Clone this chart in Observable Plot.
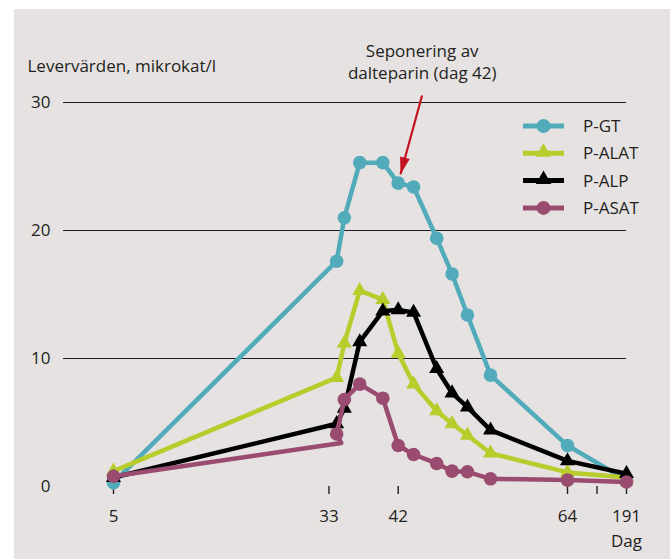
<!DOCTYPE html>
<html>
<head>
<meta charset="utf-8">
<script src="https://cdn.jsdelivr.net/npm/d3@7"></script>
<script src="https://cdn.jsdelivr.net/npm/@observablehq/plot@0.6"></script>
<style>
  html, body { margin: 0; padding: 0; background: #ffffff; }
  #wrap { position: relative; width: 670px; height: 559px; overflow: hidden; }
  #bg { position: absolute; left: 14px; top: 9px; right: 0; bottom: 0; background: #e6e2e2; }
  #chart { position: absolute; left: 0; top: 0; }
  #legend { position: absolute; left: 0; top: 0; pointer-events: none; }
</style>
</head>
<body>
<div id="wrap"><div id="bg"></div><div id="chart"></div><svg id="legend" width="670" height="559"></svg></div>
<script>
// ---- data ----
const days   = [5, 34, 35, 37, 40, 42, 44, 47, 49, 51, 54, 64, 191];
const pGT    = [0.3, 17.6, 21.0, 25.3, 25.3, 23.7, 23.4, 19.4, 16.6, 13.4, 8.7, 3.2, 0.5];
const pALAT  = [1.2, 8.5, 11.2, 15.3, 14.6, 10.4, 8.0, 5.9, 4.9, 4.0, 2.6, 1.1, 0.7];
const pALP   = [0.7, 4.9, 6.1, 11.3, 13.7, 13.8, 13.6, 9.2, 7.3, 6.2, 4.4, 2.0, 1.0];
const pASAT  = [0.8, 4.1, 6.8, 8.0, 6.9, 3.2, 2.5, 1.8, 1.2, 1.15, 0.6, 0.5, 0.35];
// the P-ASAT line from day 5 ends just below its day-34 marker
const asatJoin = {day: 34.6, value: 3.4};

const seriesNames  = ["P-GT", "P-ALAT", "P-ALP", "P-ASAT"];
const seriesColors = ["#52abba", "#b8cc2c", "#000000", "#9a4b70"];
const seriesSymbols = ["circle", "triangle", "triangle", "circle"];

const xTicks = [5, 33, 42, 64, 191];
const xBreak = (64 + 191) / 2;
const yTicks = [0, 10, 20, 30];
const gridValues = [10, 20, 30];

const yTitle = "Levervärden, mikrokat/l";
const annotText = "Seponering av\ndalteparin (dag 42)";
const annotDay = 42;
const arrowFrom = {day: 45.1, value: 30.55};
const arrowTo = {day: 42.3, value: 24.4};

// ---- build tables ----
const valuesBy = [pGT, pALAT, pALP, pASAT];
const tables = valuesBy.map(vals => days.map((d, i) => ({day: d, value: vals[i]})));
const asatLine = [tables[3][0], asatJoin, ...tables[3].slice(1)];
const lineTables = [tables[0], tables[1], tables[2], asatLine];

const font = "'Open Sans', 'Noto Sans', sans-serif";
const ink = "#231f20";
const fs = 17;

// narrow filled arrowhead, tip at origin, pointing down
const arrowHead = {
  draw(ctx, size) {
    ctx.moveTo(0, 0);
    ctx.lineTo(-5, -17);
    ctx.lineTo(5, -17);
    ctx.closePath();
  }
};

const seriesMarks = [];
for (let s = 0; s < 4; s++) {
  seriesMarks.push(Plot.line(lineTables[s], {
    x: "day", y: "value", stroke: seriesColors[s], strokeWidth: 4.5,
    strokeLinejoin: "round", strokeLinecap: "butt"
  }));
  seriesMarks.push(Plot.dot(tables[s], {
    x: "day", y: "value", fill: seriesColors[s], stroke: "none",
    symbol: seriesSymbols[s], r: seriesSymbols[s] === "circle" ? 6.8 : 5.6
  }));
}

const chart = Plot.plot({
  width: 670,
  height: 559,
  marginLeft: 63,
  marginRight: 44,
  marginTop: 102,
  marginBottom: 73,
  style: {background: "transparent", fontFamily: font, fontSize: fs + "px", color: ink, overflow: "visible"},
  x: {type: "linear", domain: [5, 64, 191], range: [113, 567, 626]},
  y: {domain: [0, 30]},
  marks: [
    Plot.ruleY(gridValues, {stroke: ink, strokeWidth: 1.1}),
    Plot.axisY({ticks: yTicks, tickSize: 0, tickPadding: 13, label: null, fontSize: fs, fill: ink}),
    Plot.axisX({
      ticks: [...xTicks, xBreak], tickSize: 8, tickPadding: 9, label: null,
      fontSize: fs, fill: ink, stroke: ink, strokeWidth: 1.4, lineHeight: 1.5,
      tickFormat: d => d === xBreak ? "" : (d === 191 ? "191\nDag" : String(d))
    }),
    ...seriesMarks,
    Plot.text([yTitle], {
      frameAnchor: "top-left", text: d => d, textAnchor: "start", lineAnchor: "bottom",
      dx: -36, dy: -31, fontSize: fs, fill: ink
    }),
    Plot.text([annotText], {
      x: annotDay, y: 30, text: d => d, textAnchor: "middle", lineAnchor: "bottom",
      dx: 24, dy: -24, fontSize: fs, lineHeight: 1.25, fill: ink
    }),
    Plot.link([{a: arrowFrom, b: arrowTo}], {
      x1: d => d.a.day, y1: d => d.a.value, x2: d => d.b.day, y2: d => d.b.value,
      stroke: "#c4121f", strokeWidth: 2.2
    }),
    Plot.dot([arrowTo], {
      x: "day", y: "value", symbol: arrowHead, r: 5, rotate: 15,
      fill: "#c4121f", stroke: "none"
    })
  ]
});
document.getElementById("chart").appendChild(chart);

// ---- legend (inside plot area, top right) ----
const leg = d3.select("#legend");
seriesNames.forEach((name, i) => {
  const cy = 126 + i * 27.3;
  const g = leg.append("g").attr("transform", `translate(0,${cy})`);
  g.append("line").attr("x1", 523).attr("x2", 564).attr("y1", 0).attr("y2", 0)
    .attr("stroke", seriesColors[i]).attr("stroke-width", 5);
  const sym = seriesSymbols[i] === "circle" ? d3.symbolCircle : d3.symbolTriangle;
  const r = seriesSymbols[i] === "circle" ? 7 : 5.8;
  g.append("path").attr("d", d3.symbol(sym, Math.PI * r * r)())
    .attr("transform", `translate(543.5,${seriesSymbols[i] === "circle" ? 0 : -1})`)
    .attr("fill", seriesColors[i]);
  g.append("text").attr("x", 583).attr("y", 0).attr("dy", "0.35em")
    .attr("font-family", font).attr("font-size", fs).attr("fill", ink).text(name);
});
</script>
</body>
</html>
